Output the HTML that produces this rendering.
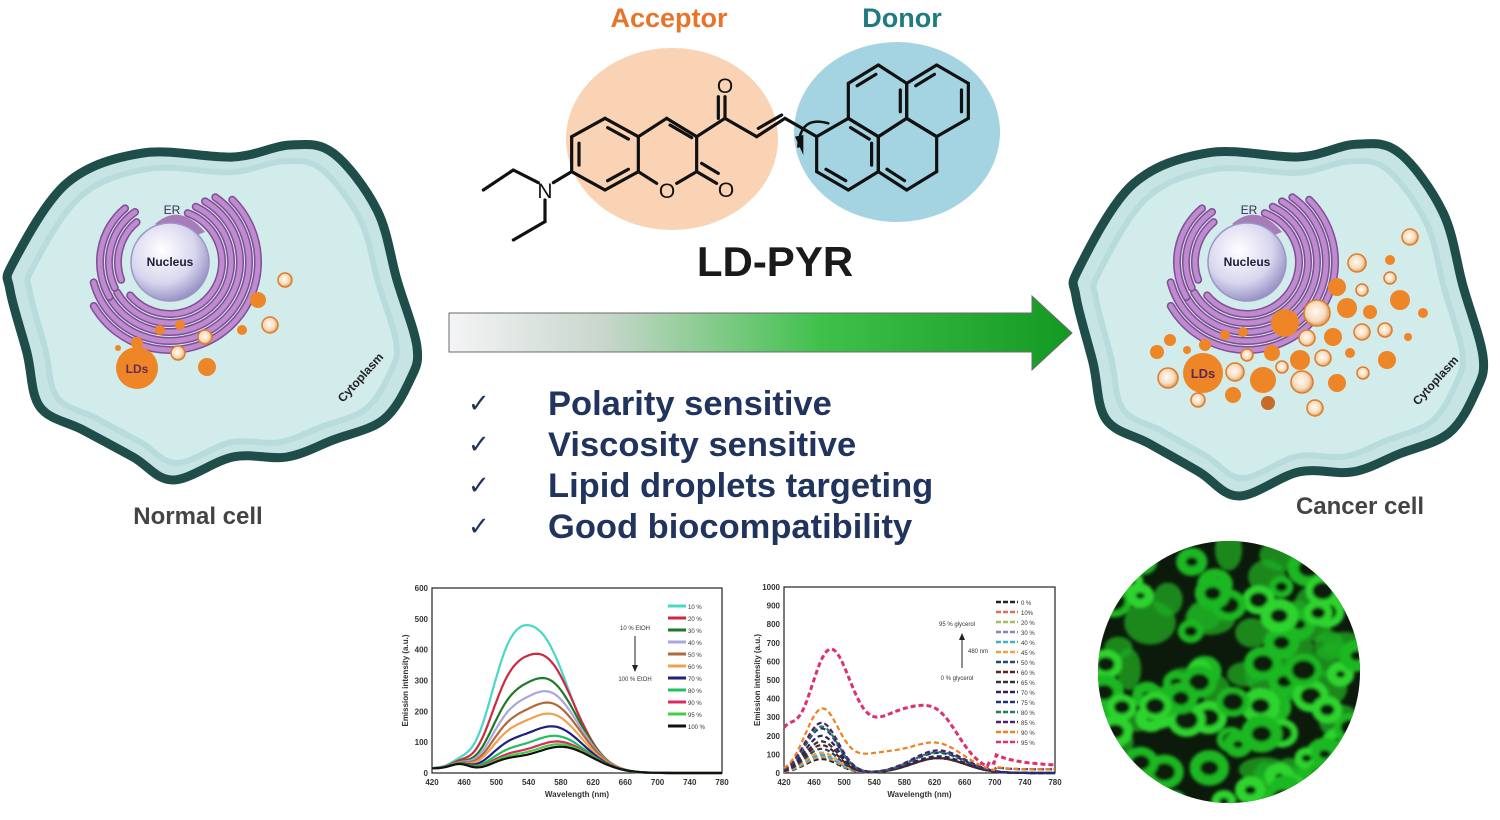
<!DOCTYPE html>
<html><head><meta charset="utf-8"><style>
html,body{margin:0;padding:0;background:#fff;width:1500px;height:820px;overflow:hidden}
svg{display:block}
text{font-family:"Liberation Sans",sans-serif}
</style></head><body>
<svg id="s" width="1500" height="820" viewBox="0 0 1500 820" xmlns="http://www.w3.org/2000/svg">
<defs>
<linearGradient id="arr" x1="0" x2="1" y1="0" y2="0">
<stop offset="0" stop-color="#f4f4f6"/><stop offset="0.25" stop-color="#c8d6cc"/><stop offset="0.6" stop-color="#3fc04a"/><stop offset="1" stop-color="#139a22"/>
</linearGradient>
<radialGradient id="nuc" cx="0.4" cy="0.35" r="0.7">
<stop offset="0" stop-color="#ffffff"/><stop offset="0.6" stop-color="#d8d6ee"/><stop offset="1" stop-color="#8f89c0"/>
</radialGradient>
<radialGradient id="hol" cx="0.45" cy="0.45" r="0.6">
<stop offset="0" stop-color="#fffaf0"/><stop offset="0.6" stop-color="#f6dcc0"/><stop offset="1" stop-color="#d98a3c"/>
</radialGradient>
<clipPath id="circ"><circle cx="1229" cy="672" r="131"/></clipPath>
<filter id="bl"><feGaussianBlur stdDeviation="1.6"/></filter>
</defs>

<ellipse cx="672" cy="139" rx="106" ry="91" fill="#f9d3b3"/>
<ellipse cx="897" cy="132" rx="103" ry="90" fill="#a4d3e1"/>
<text x="669" y="27" font-size="27" font-weight="bold" fill="#e8742a" text-anchor="middle">Acceptor</text>
<text x="902" y="27" font-size="27" font-weight="bold" fill="#1f7b80" text-anchor="middle">Donor</text>
<g id="mol" stroke="#111" stroke-width="3.2" fill="none" stroke-linecap="round" stroke-linejoin="round"></g>
<text x="725" y="93" font-size="21" fill="#111" text-anchor="middle">O</text>
<text x="726" y="197" font-size="21" fill="#111" text-anchor="middle">O</text>
<text x="667" y="198" font-size="21" fill="#111" text-anchor="middle">O</text>
<text x="545" y="198" font-size="21" fill="#111" text-anchor="middle">N</text>
<text x="775" y="276" font-size="42" font-weight="bold" fill="#1a1a1a" text-anchor="middle">LD-PYR</text>

<path d="M449 313 L1032 313 L1032 296 L1072 333 L1032 370 L1032 352 L449 352 Z" fill="url(#arr)" stroke="#6a6a6a" stroke-width="1"/>

<g font-size="34.5" font-weight="bold" fill="#21345e">
<text x="468" y="412" font-weight="normal" font-family="DejaVu Sans" font-size="26">✓</text><text x="548" y="415">Polarity sensitive</text>
<text x="468" y="453" font-weight="normal" font-family="DejaVu Sans" font-size="26">✓</text><text x="548" y="456">Viscosity sensitive</text>
<text x="468" y="494" font-weight="normal" font-family="DejaVu Sans" font-size="26">✓</text><text x="548" y="497">Lipid droplets targeting</text>
<text x="468" y="535" font-weight="normal" font-family="DejaVu Sans" font-size="26">✓</text><text x="548" y="538">Good biocompatibility</text>
</g>

<g id="cells"></g>
<text x="198" y="524" font-size="24" font-weight="bold" fill="#444" text-anchor="middle">Normal cell</text>
<text x="1360" y="514" font-size="24" font-weight="bold" fill="#444" text-anchor="middle">Cancer cell</text>

<g id="charts"></g>

<circle cx="1229" cy="672" r="131" fill="#0c1a0c"/>
<g id="fl" clip-path="url(#circ)"><g id="fli" filter="url(#bl)"></g></g>
</svg>
<script>
var NS="http://www.w3.org/2000/svg";
function el(p,t,a,txt){var e=document.createElementNS(NS,t);for(var k in a)e.setAttribute(k,a[k]);if(txt!=null)e.textContent=txt;p.appendChild(e);return e;}
var S=document.getElementById('s');
var mol=document.getElementById('mol');
function z(x,y){return [x/3+470,y/3];}
function line(a,b){var p=z(a[0],a[1]),q=z(b[0],b[1]);el(mol,'line',{x1:p[0],y1:p[1],x2:q[0],y2:q[1]});}
function ring(pts,dbl){for(var i=0;i<pts.length;i++){line(pts[i],pts[(i+1)%pts.length]);}
 var cx=0,cy=0;pts.forEach(function(p){cx+=p[0];cy+=p[1]});cx/=pts.length;cy/=pts.length;
 (dbl||[]).forEach(function(i){var a=pts[i],b=pts[(i+1)%pts.length];var f=0.78;
  var a2=[cx+(a[0]-cx)*f,cy+(a[1]-cy)*f],b2=[cx+(b[0]-cx)*f,cy+(b[1]-cy)*f];
  var m=[(a2[0]+b2[0])/2,(a2[1]+b2[1])/2];var s=0.8;
  line([m[0]+(a2[0]-m[0])*s,m[1]+(a2[1]-m[1])*s],[m[0]+(b2[0]-m[0])*s,m[1]+(b2[1]-m[1])*s]);});}
ring([[405,355],[505,410],[505,515],[405,570],[305,515],[305,410]],[0,2,4]);
line([505,410],[590,355]);line([590,355],[680,410]);line([680,410],[680,515]);
line([680,515],[620,550]);line([560,550],[505,515]);
line([600,375],[665,413]);
line([680,515],[740,550]);line([695,490],[745,520]);
line([680,410],[765,355]);line([765,355],[765,290]);line([745,355],[745,290]);
line([765,355],[860,410]);line([860,410],[945,355]);line([865,385],[935,345]);
line([945,355],[1040,410]);
ring([[1040,410],[1135,355],[1225,410],[1225,515],[1135,570],[1040,515]],[1,2,4]);
ring([[1135,355],[1135,250],[1225,195],[1310,250],[1310,355],[1225,410]],[1,3]);
ring([[1310,250],[1400,195],[1495,250],[1495,355],[1400,410],[1310,355]],[0,2]);
ring([[1225,410],[1310,355],[1400,410],[1400,515],[1310,570],[1225,515]],[4]);
line([305,515],[250,548]);
line([205,548],[130,510]);line([130,510],[40,570]);
line([225,600],[225,665]);line([225,665],[130,720]);
var ca=z(1075,370),cb=z(990,345),cc=z(985,440);
el(mol,'path',{d:'M'+ca+' Q'+cb+' '+cc,'stroke-width':2.5});
el(S,'path',{d:'M'+z(975,410)+' L'+z(1000,465)+' L'+z(1000,405)+' Z',fill:'#111'});

var G=document.getElementById('cells');
function smooth(pts){var d='M'+pts[0][0]+' '+pts[0][1];var n=pts.length;
 for(var i=0;i<n;i++){var p0=pts[(i-1+n)%n],p1=pts[i],p2=pts[(i+1)%n],p3=pts[(i+2)%n];
 d+=' C'+(p1[0]+(p2[0]-p0[0])/6)+' '+(p1[1]+(p2[1]-p0[1])/6)+' '+(p2[0]-(p3[0]-p1[0])/6)+' '+(p2[1]-(p3[1]-p1[1])/6)+' '+p2[0]+' '+p2[1];}
 return d+'Z';}
var base=[[13,263],[67,183],[143,153],[233,157],[290,145],[333,153],[377,210],[397,280],[417,347],[410,380],[383,420],[333,440],[287,457],[233,457],[173,480],[133,457],[83,430],[40,407],[27,353],[10,290]];
function cell(dx,dy,sx,sy,nx,ny,drops,cyto){
 var pts=base.map(function(p){return [dx+p[0]*sx,dy+p[1]*sy]});
 var g=el(G,'g',{});
 el(g,'path',{d:smooth(pts),fill:'#c6e4e3',stroke:'#1e4d4a','stroke-width':9,'stroke-linejoin':'round'});
 var inner=pts.map(function(p){var cx=dx+210*sx,cy=dy+310*sy;return [cx+(p[0]-cx)*0.9,cy+(p[1]-cy)*0.9]});
 el(g,'path',{d:smooth(inner),fill:'#d2eceb',stroke:'#b8dcdb','stroke-width':6});
 var r0=42;
 [[10,-70,140],[19,-65,150],[28,-60,160],[37,-55,165],[46,-45,150],[10,160,230],[19,155,235],[28,150,230]].forEach(function(a){
  var r=r0+a[0],t1=a[1]*Math.PI/180,t2=a[2]*Math.PI/180;
  var x1=nx+r*Math.cos(t1),y1=ny+r*Math.sin(t1),x2=nx+r*Math.cos(t2),y2=ny+r*Math.sin(t2);
  var large=(a[2]-a[1])>180?1:0;
  var d='M'+x1+' '+y1+' A'+r+' '+r+' 0 '+large+' 1 '+x2+' '+y2;
  el(g,'path',{d:d,fill:'none',stroke:'#7e4f92','stroke-width':8,'stroke-linecap':'round'});
  el(g,'path',{d:d,fill:'none',stroke:'#c08ad0','stroke-width':5,'stroke-linecap':'round'});
 });
 el(g,'path',{d:'M'+(nx-15)+' '+(ny-38)+' Q'+(nx+10)+' '+(ny-60)+' '+(nx+35)+' '+(ny-30)+' L'+(nx+10)+' '+(ny-20)+'Z',fill:'#a87cb8'});
 el(g,'text',{x:nx+2,y:ny-48,'font-size':12,fill:'#3a2a55','text-anchor':'middle'},'ER');
 el(g,'circle',{cx:nx,cy:ny,r:r0-3,fill:'url(#nuc)',stroke:'#9a94c8','stroke-width':1.5});
 el(g,'text',{x:nx,y:ny+4,'font-size':12,'font-weight':'bold',fill:'#1d1d3a','text-anchor':'middle'},'Nucleus');
 drops.forEach(function(d){
  if(d[3]=='h')el(g,'circle',{cx:d[0],cy:d[1],r:d[2],fill:'url(#hol)',stroke:'#e07c28','stroke-width':1.5});
  else el(g,'circle',{cx:d[0],cy:d[1],r:d[2],fill:d[3]=='d'?'#c86a2a':'#ee8526'});
 });
 el(g,'text',{x:cyto[0],y:cyto[1],'font-size':12,'font-weight':'bold',fill:'#222',transform:'rotate(-48 '+cyto[0]+' '+cyto[1]+')'},'Cytoplasm');
 return g;
}
var g1=cell(0,0,1,1,170,262,[[285,280,7,'h'],[258,300,8,'s'],[270,325,8,'h'],[242,330,5,'s'],[205,337,7,'h'],[178,353,7,'h'],[207,367,9,'s'],[137,343,6,'s'],[118,348,3,'s'],[160,330,5,'s'],[180,325,5,'s'],[137,368,21,'s']],[343,403]);
el(g1,'text',{x:137,y:373,'font-size':12,'font-weight':'bold',fill:'#6a2a55','text-anchor':'middle'},'LDs');
var dr=[[1410,237,8,'h'],[1357,263,9,'h'],[1390,260,5,'s'],[1390,278,6,'h'],[1337,287,9,'s'],[1362,290,6,'h'],[1400,300,10,'s'],[1317,313,13,'h'],[1347,308,10,'s'],[1370,312,7,'s'],[1423,313,5,'s'],[1285,323,14,'s'],[1307,338,8,'h'],[1333,337,9,'s'],[1362,332,8,'h'],[1385,330,7,'h'],[1408,337,4,'s'],[1272,353,8,'s'],[1247,355,6,'h'],[1300,360,10,'s'],[1323,358,8,'h'],[1350,353,5,'s'],[1387,360,9,'s'],[1282,367,6,'h'],[1235,372,9,'h'],[1263,380,13,'s'],[1302,382,11,'h'],[1337,383,9,'s'],[1363,373,6,'h'],[1168,378,10,'h'],[1157,352,7,'s'],[1170,340,6,'s'],[1187,350,4,'s'],[1205,345,6,'s'],[1233,395,8,'s'],[1268,403,7,'d'],[1198,400,7,'h'],[1315,408,8,'h'],[1225,335,5,'s'],[1243,332,5,'s'],[1203,373,20,'s']];
var g2=cell(1066,-8,1.0,1.05,1247,262,dr,[1418,406]);
el(g2,'text',{x:1203,y:378,'font-size':13,'font-weight':'bold',fill:'#5a2a55','text-anchor':'middle'},'LDs');

var C=document.getElementById('charts');
function chart(x0,y0,x1,y1,ymax,ystep){
 el(C,'rect',{x:x0,y:y0,width:x1-x0,height:y1-y0,fill:'#fff',stroke:'#222','stroke-width':1.2});
 for(var v=0;v<=ymax;v+=ystep){var y=y1-(y1-y0)*v/ymax;el(C,'text',{x:x0-4,y:y+3,'font-size':8,'font-weight':'bold',fill:'#333','text-anchor':'end'},v);}
 for(var w=420;w<=780;w+=40){var x=x0+(x1-x0)*(w-420)/360;el(C,'text',{x:x,y:y1+12,'font-size':8,'font-weight':'bold',fill:'#333','text-anchor':'middle'},w);}
 el(C,'text',{x:(x0+x1)/2,y:y1+24,'font-size':8,'font-weight':'bold',fill:'#333','text-anchor':'middle'},'Wavelength (nm)');
 el(C,'text',{x:x0-24,y:(y0+y1)/2,'font-size':8,'font-weight':'bold',fill:'#333','text-anchor':'middle',transform:'rotate(-90 '+(x0-24)+' '+((y0+y1)/2)+')'},'Emission intensity (a.u.)');
}
function curve(x0,y0,x1,y1,ymax,f,col,dash,w){
 var d='';for(var l=420;l<=780;l+=3){var x=x0+(x1-x0)*(l-420)/360,y=y1-(y1-y0)*Math.min(f(l),ymax)/ymax;d+=(d?'L':'M')+x.toFixed(1)+' '+y.toFixed(1);}
 var a={d:d,fill:'none',stroke:col,'stroke-width':w||2};if(dash)a['stroke-dasharray']=dash;el(C,'path',a);
}
function gs(l,m,s){return Math.exp(-Math.pow((l-m)/s,2)/2);}
var L={x0:432,y0:588,x1:722,y1:773};
chart(L.x0,L.y0,L.x1,L.y1,600,100);
var lc=['#48d8c8','#d0283c','#1e7a26','#a8a8e0','#b06a3a','#f0a050','#202080','#20c060','#e02860','#40d040','#111'];
var lh=[440,370,300,260,225,190,150,120,102,93,85],lp=[552,558,562,564,566,567,570,573,576,578,580];
lc.forEach(function(c,i){var h=lh[i],p=lp[i];curve(L.x0,L.y0,L.x1,L.y1,600,function(l){return h*gs(l,p,38)+h*0.35*gs(l,510,22)+20*gs(l,455,12)+15*gs(l,420,30);},c,null,2.2);});
var lab=['10 %','20 %','30 %','40 %','50 %','60 %','70 %','80 %','90 %','95 %','100 %'];
lab.forEach(function(t,i){var y=606+i*12;el(C,'line',{x1:668,y1:y,x2:686,y2:y,stroke:lc[i],'stroke-width':3});el(C,'text',{x:688,y:y+3,'font-size':6,fill:'#333'},t);});
el(C,'text',{x:635,y:630,'font-size':6,fill:'#333','text-anchor':'middle'},'10 % EtOH');
el(C,'line',{x1:635,y1:636,x2:635,y2:668,stroke:'#222','stroke-width':1});
el(C,'path',{d:'M632 665 L635 672 L638 665Z',fill:'#222'});
el(C,'text',{x:635,y:681,'font-size':6,fill:'#333','text-anchor':'middle'},'100 % EtOH');

var R={x0:784,y0:587,x1:1055,y1:773};
chart(R.x0,R.y0,R.x1,R.y1,1000,100);
var rc=['#222','#e07050','#a0c060','#9080c0','#40b0c0','#f0a040','#204870','#602020','#333','#302060','#203080','#208050','#502070','#f08020','#e0306a'];
var rh=[75,85,90,95,100,110,130,150,170,200,240,250,270,330,680];
rc.forEach(function(c,i){var h=rh[i];
 var f=(i==14)?function(l){return 620*gs(l,480,28)+330*gs(l,580,50)+120*gs(l,630,25)+180*gs(l,420,15)+(l>700?50*Math.exp(-(l-700)/60):0)+(l>690?30:0);}
 :function(l){return h*gs(l,470,22)+(i==13?h*0.3*gs(l,545,40):0)+Math.max(h*0.45,80)*gs(l,625,35)+(l>700?20:0)*(i>10?1:0);};
 curve(R.x0,R.y0,R.x1,R.y1,1000,f,c,'5 3',i==14?3:2.2);});
var rl=['0 %','10%','20 %','30 %','40 %','45 %','50 %','60 %','65 %','70 %','75 %','80 %','85 %','90 %','95 %'];
rl.forEach(function(t,i){var y=602+i*10;el(C,'line',{x1:996,y1:y,x2:1018,y2:y,stroke:rc[i],'stroke-width':2.5,'stroke-dasharray':'5 2'});el(C,'text',{x:1021,y:y+3,'font-size':6,fill:'#333'},t);});
el(C,'text',{x:957,y:626,'font-size':6,fill:'#333','text-anchor':'middle'},'95 % glycerol');
el(C,'line',{x1:962,y1:638,x2:962,y2:668,stroke:'#222','stroke-width':1});
el(C,'path',{d:'M959 640 L962 633 L965 640Z',fill:'#222'});
el(C,'text',{x:978,y:653,'font-size':6,fill:'#333','text-anchor':'middle'},'480 nm');
el(C,'text',{x:957,y:680,'font-size':6,fill:'#333','text-anchor':'middle'},'0 % glycerol');

var F=document.getElementById('fli');var seed=7;function rnd(){seed=(seed*16807)%2147483647;return seed/2147483647;}
for(var i=0;i<45;i++){var x=1098+rnd()*262,y=541+rnd()*262;el(F,'ellipse',{cx:x,cy:y,rx:12+rnd()*14,ry:10+rnd()*12,fill:'#1fae22',opacity:0.75});}
for(var i=0;i<80;i++){var x=1098+rnd()*262,y=541+rnd()*262;var r=7+rnd()*7;
 el(F,'ellipse',{cx:x,cy:y,rx:r*1.15,ry:r,fill:'#0c1a0c',stroke:rnd()<0.5?'#2ed42e':'#1fb822','stroke-width':6+rnd()*5});}
</script>
</body></html>
